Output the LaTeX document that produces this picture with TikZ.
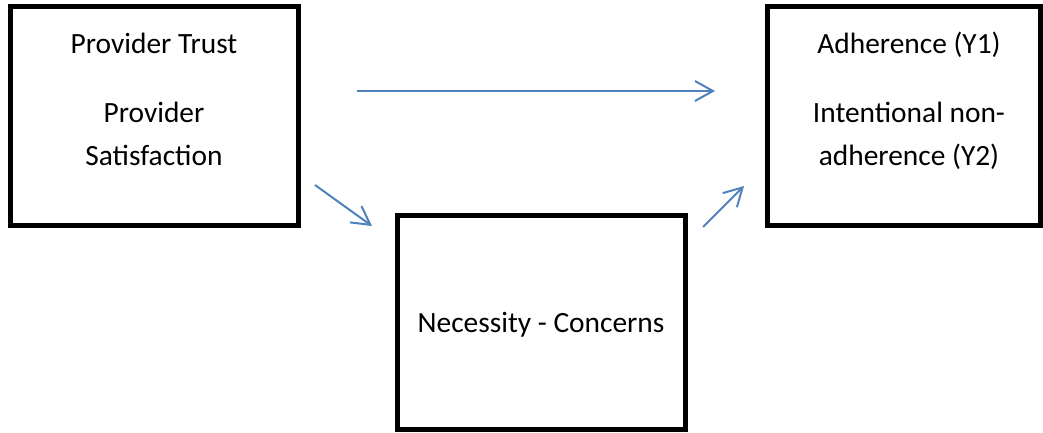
\documentclass[tikz,border=0pt]{standalone}
\usepackage{fontspec}
\setmainfont{Carlito}
\usetikzlibrary{arrows.meta}
\usetikzlibrary{positioning}
\definecolor{arrowblue}{HTML}{4F81BD}

\begin{document}
\begin{tikzpicture}[x=0.5pt, y=-0.5pt,
	box/.style={draw, black, line width=2.5pt, minimum height=109pt, inner sep=0pt},
	txt/.style={font=\fontsize{14.7}{21}\selectfont, align=center, inner sep=0pt, anchor=base},
	link/.style={arrowblue, line width=1pt, -{Straight Barb[length=9pt, width=10pt]}}]
	\useasboundingbox (0,0) rectangle (1043,433);

	%Trust

	\node (Trust) [box, minimum width=144pt] at (154,116) {};
	\node (TrustTxt) [txt] at (154,165) {Provider Trust\\[13.5pt]Provider\\Satisfaction};

	%Adherence

	\node (Adh) [box, minimum width=136.5pt] at (903.5,116) {};
	\node (AdhTxt) [txt] at (909,165) {Adherence (Y1)\\[13.5pt]Intentional non-\\adherence (Y2)};

	%Necessity

	\node (Nec) [box, minimum width=144pt, minimum height=107pt] at (541,322) {};
	\node (NecTxt) [txt] at (541,332) {Necessity - Concerns};

	%Arrows

	\coordinate (TopA) at (357,91);
	\coordinate (TopB) at (715,91);
	\coordinate (LeftA) at (315,185);
	\coordinate (LeftB) at (372,226);
	\coordinate (RightA) at (703,227);
	\coordinate (RightB) at (744,186);

	\draw [link] (TopA) -- (TopB);
	\draw [link] (LeftA) -- (LeftB);
	\draw [link] (RightA) -- (RightB);

\end{tikzpicture}
\end{document}
